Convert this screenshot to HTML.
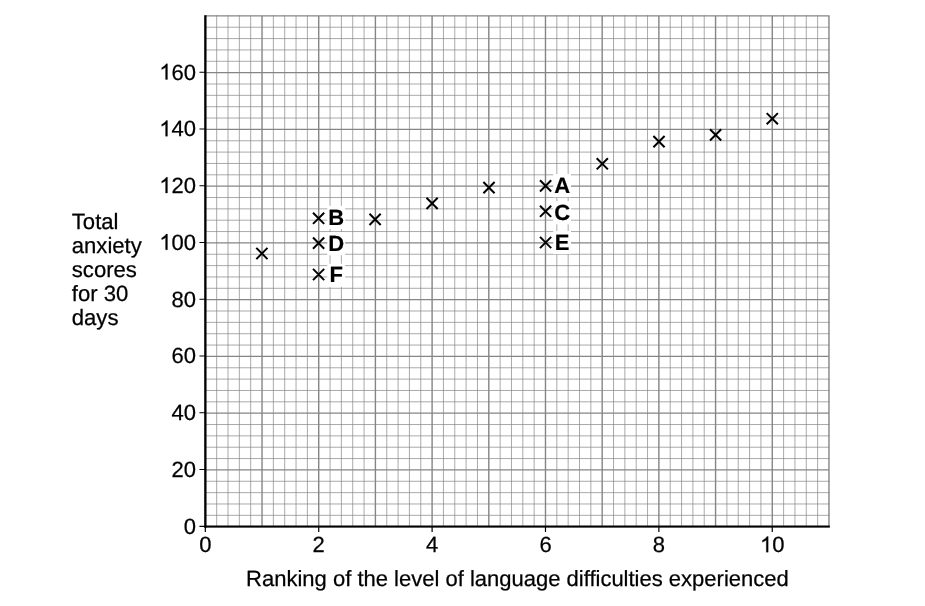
<!DOCTYPE html>
<html><head><meta charset="utf-8"><title>Chart</title>
<style>
html,body{margin:0;padding:0;background:#fff;}
body{width:925px;height:606px;position:relative;overflow:hidden;font-family:"Liberation Sans",sans-serif;}
</style></head><body>
<svg width="925" height="606" viewBox="0 0 925 606" style="position:absolute;left:0;top:0;will-change:transform">
<path d="M216.67 15.18V526.68M228.01 15.18V526.68M239.35 15.18V526.68M250.68 15.18V526.68M273.36 15.18V526.68M284.70 15.18V526.68M296.04 15.18V526.68M307.38 15.18V526.68M330.05 15.18V526.68M341.39 15.18V526.68M352.73 15.18V526.68M364.07 15.18V526.68M386.75 15.18V526.68M398.09 15.18V526.68M409.42 15.18V526.68M420.76 15.18V526.68M443.44 15.18V526.68M454.78 15.18V526.68M466.12 15.18V526.68M477.46 15.18V526.68M500.13 15.18V526.68M511.47 15.18V526.68M522.81 15.18V526.68M534.15 15.18V526.68M556.83 15.18V526.68M568.17 15.18V526.68M579.50 15.18V526.68M590.84 15.18V526.68M613.52 15.18V526.68M624.86 15.18V526.68M636.20 15.18V526.68M647.54 15.18V526.68M670.21 15.18V526.68M681.55 15.18V526.68M692.89 15.18V526.68M704.23 15.18V526.68M726.91 15.18V526.68M738.24 15.18V526.68M749.58 15.18V526.68M760.92 15.18V526.68M783.60 15.18V526.68M794.94 15.18V526.68M806.28 15.18V526.68M817.61 15.18V526.68M205.33 515.33H829.65M205.33 503.98H829.65M205.33 492.63H829.65M205.33 481.28H829.65M205.33 458.57H829.65M205.33 447.22H829.65M205.33 435.87H829.65M205.33 424.52H829.65M205.33 401.82H829.65M205.33 390.47H829.65M205.33 379.12H829.65M205.33 367.77H829.65M205.33 345.06H829.65M205.33 333.71H829.65M205.33 322.36H829.65M205.33 311.01H829.65M205.33 288.31H829.65M205.33 276.96H829.65M205.33 265.61H829.65M205.33 254.26H829.65M205.33 231.55H829.65M205.33 220.20H829.65M205.33 208.85H829.65M205.33 197.50H829.65M205.33 174.80H829.65M205.33 163.45H829.65M205.33 152.10H829.65M205.33 140.75H829.65M205.33 118.04H829.65M205.33 106.69H829.65M205.33 95.34H829.65M205.33 83.99H829.65M205.33 61.29H829.65M205.33 49.94H829.65M205.33 38.59H829.65M205.33 27.24H829.65" stroke="#858585" stroke-width="0.7" fill="none"/>
<path d="M205.33 15.18V526.68M262.02 15.18V526.68M318.72 15.18V526.68M375.41 15.18V526.68M432.10 15.18V526.68M488.80 15.18V526.68M545.49 15.18V526.68M602.18 15.18V526.68M658.87 15.18V526.68M715.57 15.18V526.68M772.26 15.18V526.68M828.95 15.18V526.68M205.33 526.68H829.65M205.33 469.92H829.65M205.33 413.17H829.65M205.33 356.41H829.65M205.33 299.66H829.65M205.33 242.90H829.65M205.33 186.15H829.65M205.33 129.39H829.65M205.33 72.64H829.65M205.33 15.88H829.65" stroke="#858585" stroke-width="1.4" fill="none"/>
<rect x="327.3" y="205.8" width="17.8" height="23.2" fill="#fff"/>
<rect x="327.3" y="232.1" width="17.8" height="23.2" fill="#fff"/>
<rect x="327.3" y="263.7" width="17.8" height="23.2" fill="#fff"/>
<rect x="553.2" y="174.0" width="17.8" height="23.2" fill="#fff"/>
<rect x="553.2" y="201.1" width="17.8" height="23.2" fill="#fff"/>
<rect x="553.2" y="230.9" width="17.8" height="23.2" fill="#fff"/>
<path d="M205.38 15.18V527.70" stroke="#000" stroke-width="2.3" fill="none"/>
<path d="M204.13 526.60H829.85" stroke="#000" stroke-width="2.0" fill="none"/>
<path d="M199.43 526.28H205.33M199.43 469.52H205.33M199.43 412.77H205.33M199.43 356.01H205.33M199.43 299.26H205.33M199.43 242.50H205.33M199.43 185.75H205.33M199.43 128.99H205.33M199.43 72.24H205.33M205.33 526.60V532.00M318.72 526.60V532.00M432.10 526.60V532.00M545.49 526.60V532.00M658.87 526.60V532.00M772.26 526.60V532.00" stroke="#000" stroke-width="1.2" fill="none"/>
<path d="M256.30 247.90L267.50 259.10M256.30 259.10L267.50 247.90M313.00 212.70L324.20 223.90M313.00 223.90L324.20 212.70M313.00 237.50L324.20 248.70M313.00 248.70L324.20 237.50M313.00 268.90L324.20 280.10M313.00 280.10L324.20 268.90M369.50 213.80L380.70 225.00M369.50 225.00L380.70 213.80M426.50 197.80L437.70 209.00M426.50 209.00L437.70 197.80M483.40 182.00L494.60 193.20M483.40 193.20L494.60 182.00M540.00 180.30L551.20 191.50M540.00 191.50L551.20 180.30M540.00 205.70L551.20 216.90M540.00 216.90L551.20 205.70M540.00 236.90L551.20 248.10M540.00 248.10L551.20 236.90M596.70 158.20L607.90 169.40M596.70 169.40L607.90 158.20M653.40 136.00L664.60 147.20M653.40 147.20L664.60 136.00M710.00 129.30L721.20 140.50M710.00 140.50L721.20 129.30M766.70 113.10L777.90 124.30M766.70 124.30L777.90 113.10" stroke="#000" stroke-width="2.0" fill="none"/>
<g font-family="Liberation Sans, sans-serif" font-size="22.0px" fill="#000" stroke="#000" stroke-width="0.25" style="text-rendering:geometricPrecision">
<text x="196.0" y="533.6" text-anchor="end">0</text>
<text x="196.0" y="476.8" text-anchor="end">20</text>
<text x="196.0" y="420.1" text-anchor="end">40</text>
<text x="196.0" y="363.3" text-anchor="end">60</text>
<text x="196.0" y="306.6" text-anchor="end">80</text>
<path d="M763 0H583V1147Q520 1087 415 1025T223 930V1104Q373 1175 485 1275T644 1466H763Z" transform="translate(159.29 249.80) scale(0.01074 -0.01074)" fill="#000" stroke="#000" stroke-width="23"/>
<text x="196.0" y="249.8" text-anchor="end">00</text>
<path d="M763 0H583V1147Q520 1087 415 1025T223 930V1104Q373 1175 485 1275T644 1466H763Z" transform="translate(159.29 193.05) scale(0.01074 -0.01074)" fill="#000" stroke="#000" stroke-width="23"/>
<text x="196.0" y="193.0" text-anchor="end">20</text>
<path d="M763 0H583V1147Q520 1087 415 1025T223 930V1104Q373 1175 485 1275T644 1466H763Z" transform="translate(159.29 136.29) scale(0.01074 -0.01074)" fill="#000" stroke="#000" stroke-width="23"/>
<text x="196.0" y="136.3" text-anchor="end">40</text>
<path d="M763 0H583V1147Q520 1087 415 1025T223 930V1104Q373 1175 485 1275T644 1466H763Z" transform="translate(159.29 79.54) scale(0.01074 -0.01074)" fill="#000" stroke="#000" stroke-width="23"/>
<text x="196.0" y="79.5" text-anchor="end">60</text>
<text x="205.3" y="552.2" text-anchor="middle">0</text>
<text x="318.7" y="552.2" text-anchor="middle">2</text>
<text x="432.1" y="552.2" text-anchor="middle">4</text>
<text x="545.5" y="552.2" text-anchor="middle">6</text>
<text x="658.9" y="552.2" text-anchor="middle">8</text>
<path d="M763 0H583V1147Q520 1087 415 1025T223 930V1104Q373 1175 485 1275T644 1466H763Z" transform="translate(760.02 552.20) scale(0.01074 -0.01074)" fill="#000" stroke="#000" stroke-width="23"/>
<text x="772.3" y="552.2">0</text>
<text x="246.1" y="585.6">Ranking of the level of language difficulties experienced</text>
<text x="71.8" y="228.6" font-size="22.1px">Total</text>
<text x="71.8" y="252.6" font-size="22.1px">anxiety</text>
<text x="71.8" y="276.6" font-size="22.1px">scores</text>
<text x="71.8" y="300.6" font-size="22.1px">for 30</text>
<text x="71.8" y="324.6" font-size="22.1px">days</text>
</g>
<g font-family="Liberation Sans, sans-serif" font-size="22.0px" font-weight="bold" fill="#000" stroke="#000" stroke-width="0.2" text-anchor="middle" style="text-rendering:geometricPrecision">
<text x="336.2" y="224.5">B</text>
<text x="336.2" y="250.8">D</text>
<text x="336.2" y="282.4">F</text>
<text x="562.1" y="192.7">A</text>
<text x="562.1" y="219.8">C</text>
<text x="562.1" y="249.6">E</text>
</g>
</svg>
</body></html>
